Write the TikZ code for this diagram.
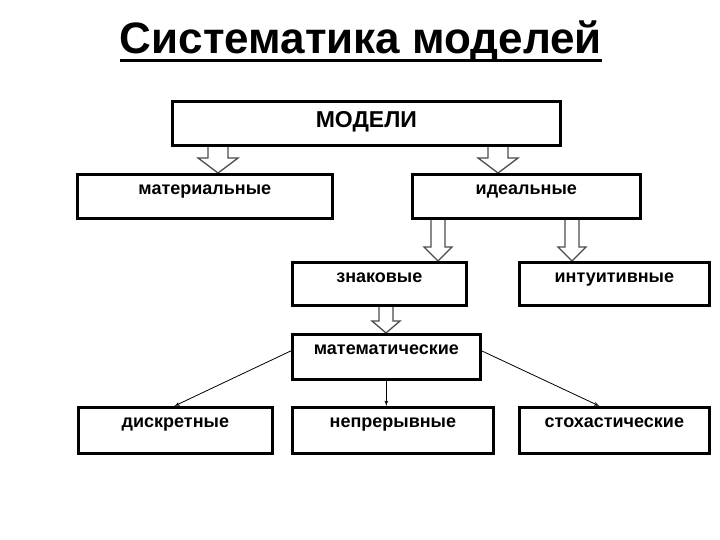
\documentclass[tikz,border=0pt]{standalone}
\usepackage{fontspec}
\setmainfont{Liberation Sans}
\usepackage{tikz}
\usetikzlibrary{calc,arrows}
\pgfdeclarelayer{back}
\pgfsetlayers{back,main}
\tikzstyle{box} = [rectangle, draw, line width=2.7pt, anchor=north west, inner sep=0pt, text height=20pt, font=\bfseries\fontsize{18}{21}\selectfont]
\tikzstyle{line} = [draw, -latex', line width=0.8pt]
\tikzstyle{hollow} = [draw=black!70, fill=white, line width=1.3pt, line join=miter]
% hollow block arrow: x position, from node, to node, half shaft, half head, head length
\newcommand{\hollowarrow}[6]{%
  \draw [hollow] let \p1=(#2.south), \p2=(#3.north) in
    ({#1pt-#4pt},\y1) -- ({#1pt-#4pt},\y2+#6pt) -- ({#1pt-#5pt},\y2+#6pt) -- (#1pt,\y2)
    -- ({#1pt+#5pt},\y2+#6pt) -- ({#1pt+#4pt},\y2+#6pt) -- ({#1pt+#4pt},\y1);}

\begin{document}
\begin{tikzpicture}[x=1pt, y=-1pt]
    \useasboundingbox (0,0) rectangle (720,540);
% Title
    \node [anchor=base, inner sep=0pt, font=\bfseries\fontsize{44}{52}\selectfont] (title) at (361,54) {Систематика моделей};
    \draw [line width=3pt] ([yshift=-7pt]title.base west) -- ([yshift=-7pt]title.base east);
% Levels
    \node [box, minimum width=388pt, text height=26pt, text depth=18pt, font=\bfseries\fontsize{23}{27}\selectfont] (modeli) at (171,100) {МОДЕЛИ};
    \node [box, minimum width=255pt, text depth=24pt] (material) at (76,173) {материальные};
    \node [box, minimum width=228pt, text depth=24pt] (ideal) at (411,173) {идеальные};
    \node [box, minimum width=174pt, text depth=23pt] (znak) at (291,261) {знаковые};
    \node [box, minimum width=190pt, text depth=23pt] (intuit) at (518,261) {интуитивные};
    \node [box, minimum width=188pt, text depth=25pt] (matem) at (291,333) {математические};
    \node [box, minimum width=194pt, text depth=26pt] (discr) at (77,406) {дискретные};
    \node [box, minimum width=201pt, text depth=26pt] (contin) at (291,406) {непрерывные};
    \node [box, minimum width=190pt, text depth=26pt] (stoch) at (518,406) {стохастические};
% Block arrows
    \begin{pgfonlayer}{back}
    \hollowarrow{218}{modeli}{material}{10}{20}{15}
    \hollowarrow{498}{modeli}{ideal}{10}{20}{15}
    \hollowarrow{438}{ideal}{znak}{7}{14}{14}
    \hollowarrow{572}{ideal}{intuit}{7}{14}{14}
    \hollowarrow{386}{znak}{matem}{7}{14}{12}
    \end{pgfonlayer}
% Thin arrows
    \path [line] ([yshift=6pt]matem.west) -- ([xshift=-1pt]discr.north);
    \path [line] (matem.south) -- (contin.north -| matem.south);
    \path [line] ([yshift=6pt]matem.east) -- ([xshift=-15pt]stoch.north);
\end{tikzpicture}
\end{document}
